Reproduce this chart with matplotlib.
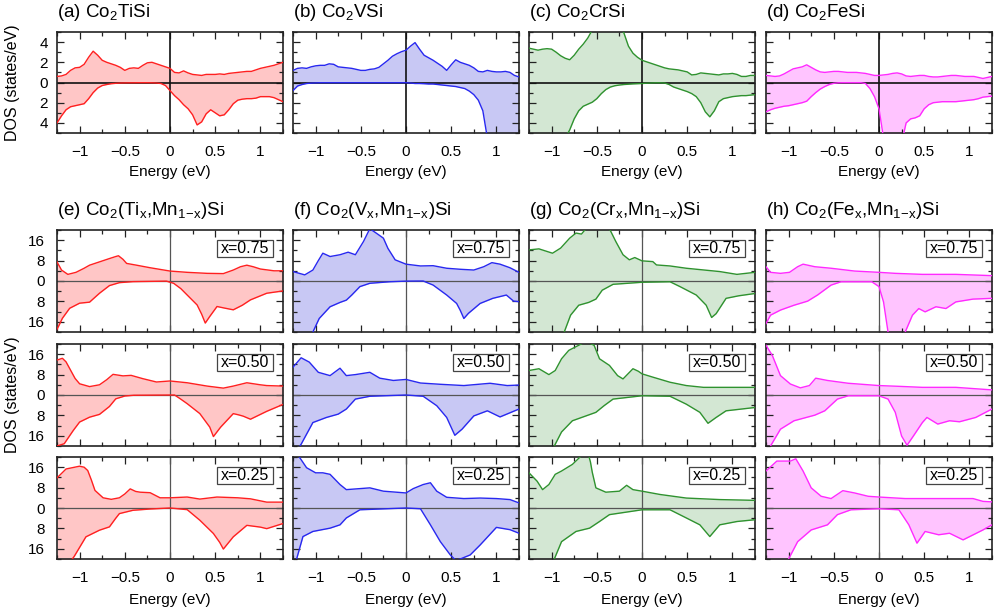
import numpy as np
import matplotlib
matplotlib.use('Agg')
import matplotlib.pyplot as plt
from matplotlib.ticker import MultipleLocator, FuncFormatter
from matplotlib.patches import Rectangle

plt.rcParams['font.family'] = ['Liberation Sans', 'DejaVu Sans']
plt.rcParams['mathtext.fontset'] = 'custom'
plt.rcParams['mathtext.rm'] = 'Liberation Sans'
plt.rcParams['mathtext.it'] = 'Liberation Sans:italic'
plt.rcParams['mathtext.bf'] = 'Liberation Sans:bold'

# ---------------- data: top row (pure compounds), common energy grid ----------------
energy_top = [-1.25, -1.20, -1.15, -1.10, -1.05, -1.00, -0.95, -0.90, -0.85, -0.80,
              -0.75, -0.70, -0.65, -0.60, -0.55, -0.50, -0.45, -0.40, -0.35, -0.30,
              -0.25, -0.20, -0.15, -0.10, -0.05, 0.00, 0.05, 0.10, 0.15, 0.20,
              0.25, 0.30, 0.35, 0.40, 0.45, 0.50, 0.55, 0.60, 0.65, 0.70,
              0.75, 0.80, 0.85, 0.90, 0.95, 1.00, 1.05, 1.10, 1.15, 1.20, 1.25]

ti_up = [0.6, 0.65, 0.8, 1.2, 1.45, 1.5, 1.8, 2.5, 3.1, 2.7, 2.2, 2.0, 1.85, 1.7, 1.5, 1.2,
         1.4, 1.45, 1.4, 1.7, 1.95, 2.0, 1.85, 1.7, 1.55, 1.4, 1.0, 0.95, 1.15, 0.95, 0.8,
         0.75, 0.7, 0.8, 0.8, 0.8, 0.85, 0.8, 0.9, 0.95, 1.0, 1.05, 1.1, 1.1, 1.25, 1.4,
         1.5, 1.6, 1.7, 1.85, 2.0]
ti_dn = [4.0, 3.3, 2.7, 2.4, 2.3, 2.2, 2.1, 1.6, 1.0, 0.55, 0.3, 0.2, 0.12, 0.08, 0.05, 0.04,
         0.03, 0.03, 0.02, 0.02, 0.02, 0.03, 0.05, 0.1, 0.3, 0.8, 1.3, 1.7, 2.2, 2.6, 3.2,
         4.2, 3.9, 3.1, 2.7, 3.0, 3.3, 3.2, 2.7, 2.1, 1.75, 1.65, 1.6, 1.6, 1.55, 1.4,
         1.4, 1.4, 1.5, 1.7, 1.9]

v_up = [1.2, 1.4, 1.45, 1.4, 1.55, 1.65, 1.7, 1.7, 1.85, 1.8, 1.55, 1.5, 1.45, 1.4, 1.3, 1.2,
        1.2, 1.3, 1.35, 1.5, 1.85, 2.2, 2.6, 2.85, 3.05, 3.2, 3.6, 3.95, 3.3, 2.7, 2.45,
        2.2, 1.9, 1.6, 1.2, 1.75, 2.25, 2.0, 1.85, 1.7, 1.45, 1.1, 1.05, 1.2, 1.1, 1.05,
        1.05, 1.1, 1.0, 0.7, 0.55]
v_dn = [0.8, 0.35, 0.2, 0.1, 0.06, 0.04, 0.02, 0.02, 0.02, 0.02, 0.02, 0.02, 0.02, 0.02,
        0.02, 0.02, 0.02, 0.02, 0.02, 0.02, 0.02, 0.02, 0.02, 0.02, 0.02, 0.02, 0.05, 0.1,
        0.1, 0.12, 0.15, 0.15, 0.2, 0.25, 0.3, 0.35, 0.4, 0.5, 0.6, 0.85, 1.2, 1.75, 2.8,
        5.5, 7.0, 8.0, 8.0, 8.0, 8.0, 8.0, 8.0]

cr_up = [3.4, 3.3, 3.2, 3.3, 3.35, 3.3, 3.0, 2.65, 2.4, 2.25, 2.7, 3.3, 3.8, 4.4, 5.2, 6.0,
         6.5, 6.5, 6.2, 6.0, 5.5, 4.9, 3.6, 2.9, 2.5, 2.2, 2.05, 1.9, 1.75, 1.6, 1.45,
         1.35, 1.3, 1.25, 1.15, 1.05, 0.75, 0.8, 0.95, 0.9, 0.85, 0.8, 0.75, 0.85, 0.85,
         0.9, 0.8, 0.6, 0.6, 0.7, 0.7]
cr_dn = [8.0, 8.0, 8.0, 8.0, 8.0, 8.0, 7.5, 6.5, 5.5, 4.7, 3.6, 2.8, 2.35, 2.15, 1.95, 1.6,
         1.1, 0.7, 0.45, 0.32, 0.25, 0.2, 0.17, 0.14, 0.12, 0.1, 0.07, 0.05, 0.03, 0.03,
         0.05, 0.2, 0.45, 0.6, 0.75, 0.9, 1.1, 1.4, 2.0, 2.9, 3.4, 2.8, 1.9, 1.6, 1.5, 1.4,
         1.35, 1.3, 1.3, 1.25, 1.2]

fe_up = [0.7, 0.65, 0.6, 0.65, 0.85, 1.1, 1.35, 1.45, 1.55, 1.75, 1.5, 1.25, 1.05, 1.0, 1.05,
         1.1, 1.1, 1.05, 1.0, 1.0, 1.0, 0.95, 0.9, 0.8, 0.7, 0.7, 0.75, 0.8, 0.9, 0.95, 0.85,
         0.65, 0.6, 0.65, 0.7, 0.7, 0.6, 0.55, 0.55, 0.6, 0.65, 0.7, 0.7, 0.65, 0.6, 0.6,
         0.6, 0.5, 0.4, 0.5, 0.6]
fe_dn = [2.9, 2.7, 2.55, 2.45, 2.35, 2.3, 2.2, 2.1, 2.0, 1.85, 1.4, 1.0, 0.65, 0.4, 0.2, 0.08,
         0.03, 0.02, 0.02, 0.02, 0.02, 0.02, 0.1, 0.6, 1.4, 2.6, 5.5, 8.0, 8.0, 8.0, 6.0,
         4.0, 3.6, 3.5, 3.3, 2.6, 2.2, 2.0, 1.95, 1.9, 1.9, 1.9, 1.9, 1.85, 1.8, 1.75,
         1.7, 1.6, 1.45, 1.4, 1.35]

# ---------------- data: alloys, (energy, DOS) pairs ----------------
ti75_up = [(-1.25, 7.5), (-1.2, 4.3), (-1.13, 2.6), (-1.04, 3.4), (-0.95, 5.0), (-0.89, 6.2), (-0.78, 7.5),
           (-0.67, 8.8), (-0.6, 9.6), (-0.57, 9.9), (-0.52, 8.5), (-0.48, 6.9), (-0.37, 6.2), (-0.22, 5.2),
           (0.0, 3.9), (0.19, 3.4), (0.41, 3.0), (0.59, 2.9), (0.7, 4.3), (0.78, 5.6), (0.85, 6.2),
           (0.92, 5.6), (1.0, 4.7), (1.15, 4.0), (1.25, 4.0)]
ti75_dn = [(-1.25, 19.0), (-1.19, 14.6), (-1.11, 10.7), (-1.0, 8.7), (-0.89, 8.3), (-0.78, 4.8), (-0.67, 1.8),
           (-0.56, 0.65), (-0.41, 0.25), (-0.04, 0.05), (0.04, 0.9), (0.12, 3.0), (0.19, 5.5), (0.3, 9.4),
           (0.35, 13.0), (0.39, 16.5), (0.44, 13.9), (0.52, 10.0), (0.6, 10.6), (0.7, 11.3), (0.8, 9.5),
           (0.89, 7.4), (1.07, 4.8), (1.25, 3.9)]
ti50_up = [(-1.25, 13.7), (-1.19, 14.4), (-1.15, 13.0), (-1.11, 10.4), (-1.05, 6.5), (-1.0, 4.4), (-0.89, 3.3),
           (-0.78, 4.0), (-0.7, 6.0), (-0.63, 8.1), (-0.52, 7.5), (-0.43, 7.7), (-0.3, 6.4), (-0.15, 5.1),
           (0.0, 5.5), (0.19, 4.8), (0.41, 3.5), (0.59, 2.7), (0.7, 3.5), (0.85, 4.8), (1.0, 4.0),
           (1.07, 3.7), (1.25, 3.5)]
ti50_dn = [(-1.25, 20.0), (-1.17, 19.1), (-1.07, 13.9), (-1.0, 10.6), (-0.89, 8.7), (-0.78, 7.6), (-0.67, 4.5),
           (-0.6, 1.5), (-0.5, 0.4), (-0.4, 0.1), (0.05, 0.0), (0.11, 1.4), (0.19, 3.4), (0.33, 7.3),
           (0.44, 12.6), (0.48, 16.3), (0.56, 12.6), (0.7, 7.3), (0.76, 7.8), (0.81, 8.3), (0.89, 9.5),
           (1.07, 6.4), (1.25, 3.7)]
ti25_up = [(-1.25, 11.8), (-1.15, 15.3), (-1.0, 16.4), (-0.95, 16.0), (-0.91, 14.7), (-0.87, 11.0),
           (-0.83, 6.9), (-0.74, 4.0), (-0.65, 3.4), (-0.56, 4.0), (-0.5, 5.5), (-0.44, 7.5), (-0.38, 6.5),
           (-0.33, 6.2), (-0.22, 6.0), (-0.11, 4.0), (0.0, 4.0), (0.19, 4.3), (0.33, 3.5), (0.52, 4.3),
           (0.75, 4.0), (0.89, 3.6), (1.07, 2.3), (1.25, 2.3)]
ti25_dn = [(-1.25, 28.0), (-1.06, 19.0), (-0.93, 11.3), (-0.78, 8.7), (-0.67, 7.4), (-0.6, 4.0), (-0.56, 2.2),
           (-0.41, 0.9), (-0.22, 0.4), (0.0, 0.0), (0.19, 0.65), (0.33, 4.8), (0.48, 10.0), (0.55, 13.5),
           (0.59, 16.1), (0.7, 11.3), (0.85, 6.8), (1.0, 7.5), (1.07, 8.1), (1.25, 6.1)]

v75_up = [(-1.25, 3.7), (-1.12, 2.4), (-1.03, 4.3), (-0.97, 8.0), (-0.92, 10.9), (-0.84, 9.6), (-0.73, 10.3),
          (-0.64, 11.3), (-0.56, 10.3), (-0.47, 15.5), (-0.4, 20.5), (-0.33, 18.8), (-0.25, 16.8),
          (-0.2, 12.8), (-0.12, 8.3), (0.0, 6.6), (0.16, 5.9), (0.3, 6.0), (0.45, 5.0), (0.6, 4.6),
          (0.75, 4.3), (0.86, 5.6), (0.95, 7.2), (1.04, 6.6), (1.15, 5.2), (1.25, 3.4)]
v75_dn = [(-1.25, 30.0), (-1.1, 28.0), (-1.03, 20.0), (-0.96, 14.7), (-0.84, 10.1), (-0.73, 8.4),
          (-0.66, 7.5), (-0.6, 5.5), (-0.51, 2.2), (-0.4, 0.9), (-0.18, 0.3), (0.0, 0.05), (0.19, 0.0),
          (0.3, 1.6), (0.45, 5.5), (0.56, 8.8), (0.6, 11.5), (0.64, 14.7), (0.69, 12.7), (0.82, 8.8),
          (0.96, 6.8), (1.11, 5.5), (1.19, 7.9), (1.25, 8.1)]
v50_up = [(-1.25, 10.9), (-1.16, 14.6), (-1.07, 12.9), (-0.97, 8.9), (-0.84, 7.6), (-0.73, 10.5),
          (-0.66, 7.6), (-0.56, 8.0), (-0.4, 8.9), (-0.29, 6.6), (-0.14, 5.7), (0.0, 6.1), (0.16, 4.7),
          (0.38, 4.2), (0.64, 3.7), (0.93, 4.6), (1.12, 3.7), (1.25, 3.9)]
v50_dn = [(-1.25, 24.0), (-1.16, 19.3), (-1.03, 10.8), (-0.88, 8.8), (-0.75, 7.5), (-0.66, 5.5),
          (-0.56, 1.6), (-0.4, 0.5), (0.0, 0.0), (0.19, 0.5), (0.34, 4.2), (0.45, 8.8), (0.54, 15.8),
          (0.62, 13.4), (0.75, 8.2), (0.9, 6.2), (1.04, 8.6), (1.25, 5.5)]
v25_up = [(-1.25, 24.0), (-1.18, 20.0), (-1.1, 15.8), (-1.0, 13.8), (-0.92, 13.8), (-0.84, 13.2),
          (-0.73, 9.2), (-0.66, 7.2), (-0.51, 7.6), (-0.4, 7.9), (-0.25, 6.6), (0.0, 5.9), (0.08, 7.6),
          (0.19, 9.2), (0.27, 9.9), (0.34, 6.6), (0.45, 4.2), (0.64, 3.7), (0.82, 3.9), (1.0, 3.7),
          (1.15, 3.3), (1.25, 2.0)]
v25_dn = [(-1.25, 26.0), (-1.21, 20.0), (-1.14, 11.2), (-1.03, 9.2), (-0.84, 7.9), (-0.73, 6.6),
          (-0.66, 3.9), (-0.51, 0.7), (0.0, 0.0), (0.16, 0.3), (0.27, 6.6), (0.38, 13.2), (0.49, 18.4),
          (0.55, 20.5), (0.6, 20.0), (0.71, 18.4), (0.82, 14.5), (1.0, 7.6), (1.15, 8.5), (1.25, 9.9)]

cr75_up = [(-1.25, 12.2), (-1.14, 12.6), (-0.99, 10.9), (-0.9, 12.9), (-0.8, 16.8), (-0.73, 18.8),
           (-0.67, 18.4), (-0.62, 20.5), (-0.55, 24.0), (-0.45, 24.0), (-0.36, 20.5), (-0.29, 15.5),
           (-0.21, 10.3), (-0.14, 8.3), (-0.08, 9.2), (0.0, 7.9), (0.12, 7.6), (0.16, 6.3), (0.31, 5.9),
           (0.49, 5.0), (0.86, 3.7), (1.05, 2.6), (1.25, 3.4)]
cr75_dn = [(-1.25, 30.0), (-0.86, 20.0), (-0.79, 13.4), (-0.7, 9.5), (-0.59, 8.4), (-0.51, 7.1),
           (-0.44, 3.6), (-0.32, 1.3), (0.0, 0.5), (0.31, 0.3), (0.42, 2.2), (0.6, 5.5), (0.71, 9.5),
           (0.77, 14.3), (0.82, 12.8), (0.93, 6.8), (1.07, 5.8), (1.25, 4.9)]
cr50_up = [(-1.25, 9.6), (-1.14, 10.3), (-1.03, 8.0), (-0.96, 9.6), (-0.89, 14.2), (-0.81, 17.5),
           (-0.7, 19.5), (-0.62, 21.0), (-0.53, 19.5), (-0.47, 14.2), (-0.36, 11.6), (-0.27, 7.6),
           (-0.21, 6.3), (-0.1, 10.3), (-0.04, 9.3), (0.0, 8.3), (0.12, 7.0), (0.31, 5.0), (0.49, 3.7),
           (0.68, 3.0), (1.25, 3.0)]
cr50_dn = [(-1.25, 30.0), (-0.97, 20.0), (-0.89, 14.5), (-0.77, 10.1), (-0.62, 8.2), (-0.51, 6.8),
           (-0.42, 4.2), (-0.32, 1.6), (0.0, 0.3), (0.31, 0.5), (0.49, 3.6), (0.64, 6.8), (0.73, 11.1),
           (0.82, 8.8), (0.93, 6.2), (1.25, 4.9)]
cr25_up = [(-1.25, 13.8), (-1.16, 10.5), (-1.1, 7.2), (-1.03, 9.2), (-0.96, 13.2), (-0.89, 14.5),
           (-0.77, 17.1), (-0.67, 20.5), (-0.6, 22.0), (-0.57, 18.0), (-0.55, 14.0), (-0.51, 7.9),
           (-0.4, 6.2), (-0.25, 6.6), (-0.17, 8.9), (-0.1, 7.2), (0.0, 6.6), (0.2, 5.3), (0.49, 3.9),
           (0.86, 3.3), (1.25, 3.0)]
cr25_dn = [(-1.25, 30.0), (-0.97, 20.0), (-0.89, 13.2), (-0.73, 9.2), (-0.58, 7.9), (-0.47, 5.3),
           (-0.36, 2.6), (0.0, 0.7), (0.31, 0.7), (0.49, 3.9), (0.64, 6.6), (0.75, 11.2), (0.86, 6.6),
           (1.05, 5.3), (1.25, 4.6)]

fe75_up = [(-1.25, 5.6), (-1.2, 3.4), (-1.09, 3.0), (-0.99, 3.4), (-0.9, 5.6), (-0.84, 6.6), (-0.71, 5.6),
           (-0.53, 5.0), (-0.27, 3.9), (0.0, 3.4), (0.18, 3.0), (0.48, 2.6), (0.85, 2.6), (1.25, 2.1)]
fe75_dn = [(-1.25, 16.7), (-1.2, 13.4), (-1.09, 11.4), (-0.94, 9.5), (-0.79, 7.9), (-0.68, 5.5),
           (-0.53, 1.6), (-0.42, 0.3), (-0.08, 0.3), (0.0, 2.2), (0.05, 8.2), (0.1, 20.0), (0.15, 26.0),
           (0.25, 26.0), (0.29, 20.0), (0.37, 13.4), (0.44, 10.8), (0.51, 12.1), (0.63, 10.1),
           (0.74, 10.8), (0.85, 8.2), (1.04, 7.1), (1.25, 6.8)]
fe50_up = [(-1.25, 19.5), (-1.18, 15.5), (-1.09, 7.6), (-0.98, 4.3), (-0.87, 2.8), (-0.77, 3.7),
           (-0.7, 6.6), (-0.57, 5.7), (-0.34, 4.6), (0.0, 3.7), (0.22, 3.4), (0.48, 3.0), (0.85, 3.0),
           (1.25, 2.0)]
fe50_dn = [(-1.25, 26.0), (-1.2, 20.0), (-1.09, 13.4), (-0.94, 10.1), (-0.71, 7.9), (-0.6, 6.2),
           (-0.46, 1.6), (-0.34, 0.3), (0.0, 0.3), (0.1, 1.6), (0.18, 6.8), (0.25, 16.1), (0.31, 19.7),
           (0.38, 16.1), (0.48, 10.8), (0.53, 8.8), (0.65, 11.4), (0.78, 10.1), (0.89, 10.5),
           (1.07, 8.8), (1.25, 5.5)]
fe25_up = [(-1.25, 14.5), (-1.13, 18.4), (-0.98, 18.4), (-0.92, 19.3), (-0.84, 14.5), (-0.75, 7.9),
           (-0.64, 4.6), (-0.53, 3.7), (-0.4, 6.8), (-0.27, 5.9), (-0.12, 4.6), (0.0, 4.3), (0.29, 3.7),
           (0.66, 3.7), (1.04, 3.7), (1.15, 2.6), (1.25, 2.4)]
fe25_dn = [(-1.25, 30.0), (-1.0, 20.0), (-0.9, 13.2), (-0.75, 8.6), (-0.57, 6.6), (-0.46, 2.6),
           (-0.31, 0.7), (0.0, 0.3), (0.22, 0.7), (0.33, 6.6), (0.42, 13.8), (0.51, 9.2), (0.66, 10.5),
           (0.78, 9.9), (0.93, 12.5), (1.15, 8.6), (1.25, 6.6)]

top_titles = [r'(a) Co$_2$TiSi', r'(b) Co$_2$VSi', r'(c) Co$_2$CrSi', r'(d) Co$_2$FeSi']
alloy_titles = [r'(e) Co$_2$(Ti$_\mathrm{x}$,Mn$_{\mathrm{1}\!-\!\mathrm{x}}$)Si',
                r'(f) Co$_2$(V$_\mathrm{x}$,Mn$_{\mathrm{1}\!-\!\mathrm{x}}$)Si',
                r'(g) Co$_2$(Cr$_\mathrm{x}$,Mn$_{\mathrm{1}\!-\!\mathrm{x}}$)Si',
                r'(h) Co$_2$(Fe$_\mathrm{x}$,Mn$_{\mathrm{1}\!-\!\mathrm{x}}$)Si']
x_labels = ['x=0.75', 'x=0.50', 'x=0.25']
top_data = [(ti_up, ti_dn), (v_up, v_dn), (cr_up, cr_dn), (fe_up, fe_dn)]
alloy_data = [[(ti75_up, ti75_dn), (ti50_up, ti50_dn), (ti25_up, ti25_dn)],
              [(v75_up, v75_dn), (v50_up, v50_dn), (v25_up, v25_dn)],
              [(cr75_up, cr75_dn), (cr50_up, cr50_dn), (cr25_up, cr25_dn)],
              [(fe75_up, fe75_dn), (fe50_up, fe50_dn), (fe25_up, fe25_dn)]]
line_colors = ['#ff2020', '#2828f0', '#2f922f', '#ff2aff']
fill_colors = ['#ffc6c6', '#c8c8f4', '#d3e7d3', '#ffc4ff']

# ---------------- layout ----------------
W, H = 994, 609
fig = plt.figure(figsize=(W / 100, H / 100), dpi=100)
col_left = [57, 293, 529, 766]
ax_w = 226
top_row = (32, 133)
rows = [(230, 332), (344, 446), (457, 559)]


def add_ax(x0, y0, y1):
    return fig.add_axes([x0 / W, 1 - y1 / H, ax_w / W, (y1 - y0) / H])


def xfmt(v, p):
    if abs(v) < 1e-9:
        return '0'
    return f'{v:g}'.replace('-', '\u2212')


def yfmt(v, p):
    return f'{abs(v):g}' if abs(v) > 1e-9 else '0'


def style(ax, ylim, ymaj, ymin, show_x, show_y, ypad, xpad):
    ax.set_xlim(-1.25, 1.25)
    ax.set_ylim(-ylim, ylim)
    ax.xaxis.set_major_locator(MultipleLocator(0.5))
    ax.xaxis.set_minor_locator(MultipleLocator(0.25))
    ax.yaxis.set_major_locator(MultipleLocator(ymaj))
    ax.yaxis.set_minor_locator(MultipleLocator(ymin))
    ax.xaxis.set_major_formatter(FuncFormatter(xfmt))
    ax.yaxis.set_major_formatter(FuncFormatter(yfmt))
    ax.tick_params(which='both', direction='in', top=True, right=True, width=0.9, colors='#222222',
                   labelcolor='black', labelsize=11)
    ax.tick_params(which='major', length=5)
    ax.tick_params(which='minor', length=3)
    ax.tick_params(axis='y', pad=ypad, labelleft=show_y)
    ax.tick_params(axis='x', pad=xpad, labelbottom=show_x)
    for s in ax.spines.values():
        s.set_linewidth(1.2)
        s.set_color('#222222')


def draw(ax, Eu, up, Ed, dn, lc, fc, zc, zlw):
    up = np.asarray(up, float)
    dn = -np.asarray(dn, float)
    ax.fill_between(Eu, 0, up, color=fc, lw=0, zorder=1)
    ax.fill_between(Ed, dn, 0, color=fc, lw=0, zorder=1)
    ax.axhline(0, color=zc, lw=zlw, zorder=2)
    ax.axvline(0, color=zc, lw=zlw, zorder=2)
    ax.plot(Eu, up, color=lc, lw=1.0, zorder=3, solid_joinstyle='round')
    ax.plot(Ed, dn, color=lc, lw=1.0, zorder=3, solid_joinstyle='round')


for c in range(4):
    # top row
    ax = add_ax(col_left[c], *top_row)
    up, dn = top_data[c]
    draw(ax, energy_top, up, energy_top, dn, line_colors[c], fill_colors[c], '#111111', 1.2)
    style(ax, 5, 2, 1, True, c == 0, 6.5, 8.5)
    fig.text(col_left[c] / W, 1 - 17 / H, top_titles[c], fontsize=13.5, ha='left', va='baseline')
    fig.text((col_left[c] + ax_w / 2) / W, 1 - 172 / H, 'Energy (eV)', fontsize=11,
             ha='center', va='center')
    # alloy rows
    fig.text(col_left[c] / W, 1 - 215 / H, alloy_titles[c], fontsize=13.5, ha='left', va='baseline')
    for r in range(3):
        ax = add_ax(col_left[c], *rows[r])
        up, dn = alloy_data[c][r]
        Eu = [p[0] for p in up]
        Vu = [p[1] for p in up]
        Ed = [p[0] for p in dn]
        Vd = [p[1] for p in dn]
        draw(ax, Eu, Vu, Ed, Vd, line_colors[c], fill_colors[c], '#555555', 0.9)
        style(ax, 20, 8, 4, r == 2, c == 0, 8.5, 8.5)
        ax.add_patch(Rectangle((0.707, 0.738), 0.247, 0.164, transform=ax.transAxes,
                               facecolor='white', edgecolor='#444444', lw=0.9, zorder=5))
        ax.text(0.830, 0.818, x_labels[r], transform=ax.transAxes, fontsize=11.5,
                ha='center', va='center', zorder=6)
    fig.text((col_left[c] + ax_w / 2) / W, 1 - 600 / H, 'Energy (eV)', fontsize=11,
             ha='center', va='center')

fig.text(13 / W, 1 - 82.5 / H, 'DOS (states/eV)', rotation=90, fontsize=11.5, ha='center', va='center')
fig.text(13 / W, 1 - 395 / H, 'DOS (states/eV)', rotation=90, fontsize=11.5, ha='center', va='center')

fig.savefig('out.png', dpi=100)
